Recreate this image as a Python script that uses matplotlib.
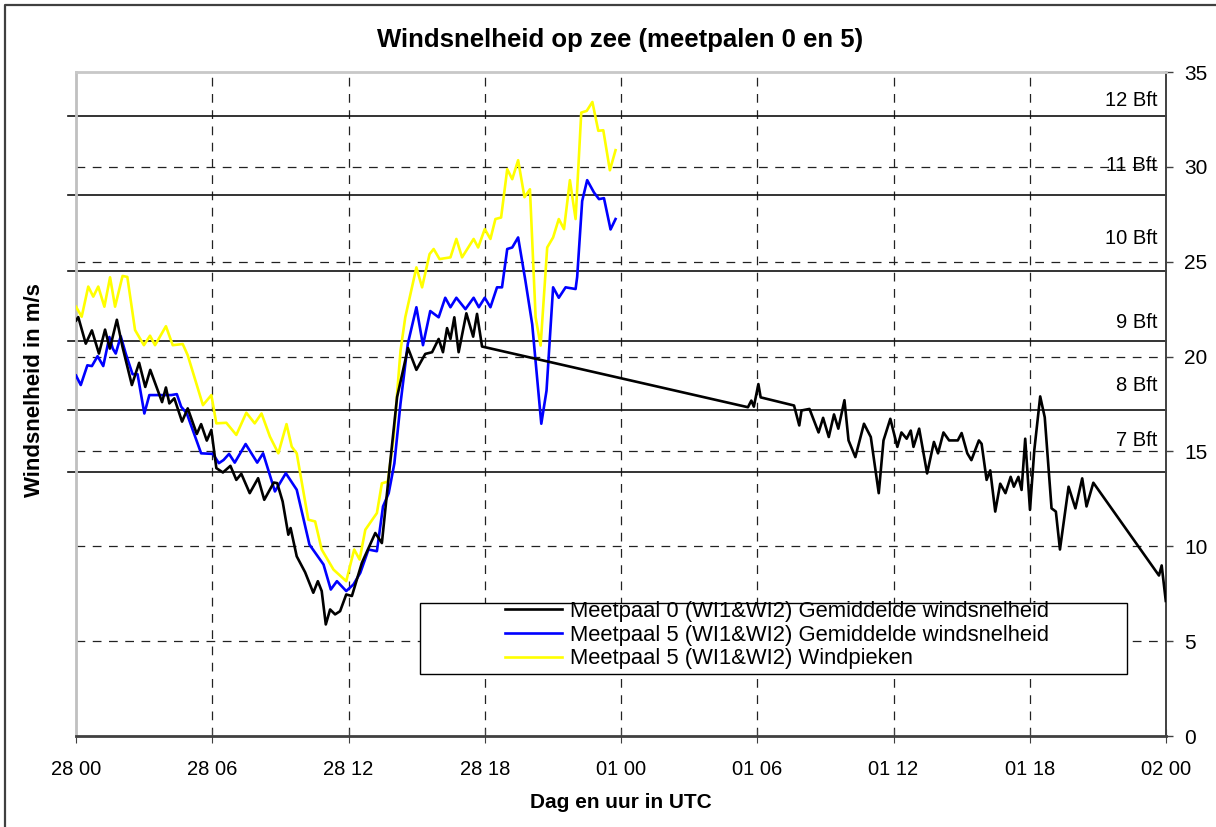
import matplotlib
matplotlib.use("Agg")
import matplotlib.pyplot as plt
from matplotlib.lines import Line2D
from matplotlib.patches import Rectangle

plt.rcParams['font.family'] = ['Liberation Sans', 'DejaVu Sans']

meetpaal0_gem = [
    (0, 21.9), (0.1, 22.08), (0.43, 20.68), (0.7, 21.38), (1.01, 20.16), (1.28, 21.42),
    (1.49, 20.42), (1.8, 21.94), (2.05, 20.5), (2.46, 18.5), (2.78, 19.67), (3.05, 18.4),
    (3.27, 19.3), (3.79, 17.6), (3.96, 18.37), (4.11, 17.53), (4.33, 17.8), (4.67, 16.57),
    (4.92, 17.27), (5.32, 15.92), (5.51, 16.44), (5.76, 15.57), (5.96, 16.13), (6.18, 14.12),
    (6.47, 13.89), (6.8, 14.24), (7.06, 13.5), (7.28, 13.82), (7.65, 12.8), (8.02, 13.59),
    (8.29, 12.45), (8.71, 13.36), (8.86, 13.33), (9.1, 12.36), (9.35, 10.61), (9.45, 10.96),
    (9.72, 9.47), (10.09, 8.63), (10.45, 7.55), (10.65, 8.16), (10.82, 7.64), (11.0, 5.88),
    (11.19, 6.67), (11.41, 6.41), (11.63, 6.58), (11.9, 7.46), (12.15, 7.38), (12.59, 9.13),
    (13.18, 10.7), (13.47, 10.17), (13.77, 13.67), (14.14, 17.87), (14.62, 20.45),
    (14.99, 19.3), (15.38, 20.14), (15.68, 20.23), (15.97, 20.93), (16.16, 20.23),
    (16.34, 21.5), (16.49, 20.93), (16.66, 22.07), (16.85, 20.23), (17.19, 22.28),
    (17.49, 21.05), (17.66, 22.25), (17.88, 20.53), (29.59, 17.33), (29.74, 17.68),
    (29.85, 17.36), (30.05, 18.55), (30.15, 17.85), (31.0, 17.6), (31.62, 17.42),
    (31.85, 16.37), (31.95, 17.16), (32.3, 17.24), (32.7, 16.0), (32.9, 16.77),
    (33.15, 15.76), (33.38, 16.95), (33.57, 16.2), (33.84, 17.7), (34.02, 15.58),
    (34.32, 14.7), (34.7, 16.46), (35.0, 15.76), (35.35, 12.8), (35.56, 15.58),
    (35.86, 16.72), (36.17, 15.24), (36.35, 16.0), (36.58, 15.67), (36.76, 16.1),
    (36.88, 15.24), (37.13, 16.2), (37.48, 13.84), (37.78, 15.5), (37.96, 14.9),
    (38.2, 16.0), (38.45, 15.58), (38.83, 15.58), (39.0, 15.97), (39.25, 14.9),
    (39.43, 14.54), (39.76, 15.58), (39.88, 15.4), (40.1, 13.5), (40.26, 14.0),
    (40.48, 11.83), (40.7, 13.3), (40.93, 12.8), (41.16, 13.66), (41.3, 13.14),
    (41.5, 13.66), (41.64, 12.97), (41.8, 15.67), (42.01, 11.92), (42.2, 15.06),
    (42.46, 17.9), (42.66, 16.8), (42.96, 12.0), (43.15, 11.83), (43.33, 9.83),
    (43.71, 13.14), (44.01, 12.0), (44.31, 13.58), (44.5, 12.1), (44.8, 13.35),
    (47.69, 8.46), (47.81, 8.99), (47.99, 7.12),
]

meetpaal5_gem = [
    (0, 19.0), (0.21, 18.5), (0.5, 19.54), (0.7, 19.5), (0.95, 20.02), (1.2, 19.5),
    (1.47, 21.03), (1.62, 20.42), (1.75, 20.16), (1.97, 21.07), (2.19, 20.16), (2.49, 19.07),
    (2.71, 19.07), (3.01, 17.0), (3.23, 17.97), (3.67, 17.97), (4.19, 17.97), (4.44, 18.02),
    (4.63, 17.36), (4.88, 17.0), (5.51, 14.9), (6.03, 14.87), (6.29, 14.38), (6.5, 14.55),
    (6.74, 14.87), (6.99, 14.41), (7.47, 15.39), (7.98, 14.41), (8.24, 14.9), (8.76, 12.89),
    (9.24, 13.85), (9.72, 12.98), (10.28, 10.09), (10.9, 9.04), (11.22, 7.72), (11.49, 8.16),
    (11.9, 7.64), (12.22, 7.99), (12.52, 8.6), (12.88, 9.83), (13.25, 9.74), (13.52, 12.1),
    (13.77, 12.8), (14.02, 14.37), (14.29, 17.52), (14.61, 20.66), (14.99, 22.6),
    (15.28, 20.6), (15.6, 22.4), (15.97, 22.07), (16.26, 23.1), (16.49, 22.6), (16.75, 23.1),
    (17.15, 22.5), (17.51, 23.1), (17.74, 22.6), (18.0, 23.1), (18.25, 22.6), (18.54, 23.65),
    (18.76, 23.65), (18.99, 25.67), (19.21, 25.75), (19.47, 26.28), (19.79, 24.0),
    (20.09, 21.7), (20.49, 16.46), (20.72, 18.2), (21.01, 23.65), (21.26, 23.1),
    (21.56, 23.65), (22.0, 23.56), (22.07, 24.2), (22.29, 28.2), (22.51, 29.3),
    (22.81, 28.65), (23.03, 28.3), (23.25, 28.35), (23.54, 26.7), (23.76, 27.25),
]

meetpaal5_pieken = [
    (0, 22.63), (0.25, 22.1), (0.54, 23.69), (0.76, 23.16), (0.98, 23.69), (1.25, 22.63),
    (1.5, 24.18), (1.72, 22.63), (2.05, 24.25), (2.26, 24.2), (2.6, 21.4), (2.99, 20.6),
    (3.26, 21.1), (3.48, 20.6), (3.96, 21.6), (4.26, 20.6), (4.7, 20.66), (4.92, 20.07),
    (5.59, 17.44), (5.96, 17.97), (6.18, 16.48), (6.62, 16.51), (7.06, 15.87), (7.5, 17.04),
    (7.87, 16.48), (8.17, 17.0), (8.54, 15.78), (8.91, 14.9), (9.27, 16.44), (9.5, 15.25),
    (9.72, 14.9), (10.23, 11.4), (10.53, 11.31), (10.82, 9.83), (11.34, 8.77), (11.9, 8.16),
    (12.25, 9.83), (12.49, 9.3), (12.74, 10.87), (13.25, 11.75), (13.47, 13.32),
    (13.73, 13.41), (13.99, 15.77), (14.29, 20.31), (14.5, 22.07), (14.99, 24.7),
    (15.24, 23.65), (15.57, 25.4), (15.75, 25.67), (16.01, 25.14), (16.49, 25.23),
    (16.75, 26.2), (17.0, 25.23), (17.51, 26.2), (17.71, 25.75), (18.0, 26.72),
    (18.25, 26.2), (18.47, 27.25), (18.72, 27.33), (18.99, 29.88), (19.21, 29.35),
    (19.47, 30.35), (19.75, 28.4), (19.99, 28.82), (20.24, 22.07), (20.46, 20.58),
    (20.75, 25.75), (21.01, 26.28), (21.26, 27.25), (21.49, 26.72), (21.75, 29.3),
    (22.0, 27.25), (22.25, 32.86), (22.49, 32.95), (22.74, 33.42), (23.0, 31.9),
    (23.22, 31.93), (23.51, 29.82), (23.76, 30.88),
]

series_labels = [
    "Meetpaal 0 (WI1&WI2) Gemiddelde windsnelheid",
    "Meetpaal 5 (WI1&WI2) Gemiddelde windsnelheid",
    "Meetpaal 5 (WI1&WI2) Windpieken",
]

x_ticks = [0, 6, 12, 18, 24, 30, 36, 42, 48]
x_labels = ["28 00", "28 06", "28 12", "28 18", "01 00", "01 06", "01 12", "01 18", "02 00"]
y_ticks = [0, 5, 10, 15, 20, 25, 30, 35]

# grenzen van de Beaufort-klassen en plek van de labels
bft_grenzen = [13.9, 17.2, 20.8, 24.5, 28.5, 32.7]
bft_namen = ["7 Bft", "8 Bft", "9 Bft", "10 Bft", "11 Bft", "12 Bft"]
bft_label_y = [15.6, 18.5, 21.8, 26.2, 30.05, 33.5]

fig = plt.figure(figsize=(12.16, 8.27), dpi=100)
ax = fig.add_axes([76/1216, 1-736/827, 1090/1216, 664/827])

# rand om de figuur
fig.add_artist(Line2D([5/1216, 5/1216, 1.0], [0.0, 1-5/827, 1-5/827],
                      transform=fig.transFigure, color="#404040", lw=1.6))

ax.set_xlim(0, 48)
ax.set_ylim(0, 35)

for x in x_ticks[1:-1]:
    ax.axvline(x, color="#222222", lw=0.9, ls=(0, (7, 6)), zorder=1)
for y in y_ticks[1:-1]:
    ax.axhline(y, color="#222222", lw=0.9, ls=(0, (7, 6)), zorder=1)

for g in bft_grenzen:
    ax.axhline(g, xmin=-0.007, xmax=1, color="#111111", lw=1.2, zorder=2, clip_on=False)
for naam, yl in zip(bft_namen, bft_label_y):
    ax.text(0.992, yl, naam, transform=ax.get_yaxis_transform(), ha="right", va="center",
            fontsize=14.5, zorder=3)

kleuren = ["black", "#0000ff", "#ffff00"]
lijnen = []
for data, kleur, z in zip([meetpaal0_gem, meetpaal5_gem, meetpaal5_pieken], kleuren, [6, 5, 4]):
    uren, waarden = zip(*data)
    l, = ax.plot(uren, waarden, color=kleur, lw=1.9, zorder=z, solid_joinstyle="round")
    lijnen.append(l)

# legenda met kader
ax.add_patch(Rectangle((0.3156, 0.093), 0.6485, 0.108, transform=ax.transAxes,
                       facecolor="white", edgecolor="black", lw=1.0, zorder=8))
leg = ax.legend(lijnen, series_labels, loc="center", bbox_to_anchor=(0.643, 0.152),
                frameon=False, fontsize=15.8, handlelength=2.6, handletextpad=0.35,
                labelspacing=0.12, borderpad=0.1)
leg.set_zorder(9)

ax.set_xticks(x_ticks)
ax.set_xticklabels(x_labels, fontsize=14.5)
ax.set_yticks(y_ticks)
ax.yaxis.tick_right()
ax.tick_params(axis="y", direction="out", length=5, width=1, pad=8, labelsize=15,
               color="#404040")
ax.tick_params(axis="x", direction="inout", length=10, width=0.8, pad=12, color="#404040")

ax.spines["left"].set_color("#c0c0c0")
ax.spines["left"].set_linewidth(2)
ax.spines["top"].set_color("#c8c8c8")
ax.spines["top"].set_linewidth(2)
ax.spines["right"].set_color("#404040")
ax.spines["right"].set_linewidth(1.4)
ax.spines["bottom"].set_color("#404040")
ax.spines["bottom"].set_linewidth(2)

ax.set_xlabel("Dag en uur in UTC", fontsize=15, fontweight="bold", labelpad=10)
fig.text(35/1216, 1-390/827, "Windsnelheid in m/s", rotation=90, ha="center", va="center",
         fontsize=16, fontweight="bold")
fig.text(620/1216, 1-40/827, "Windsnelheid op zee (meetpalen 0 en 5)", ha="center",
         va="center", fontsize=18.5, fontweight="bold")

fig.savefig("out.png", dpi=100)
